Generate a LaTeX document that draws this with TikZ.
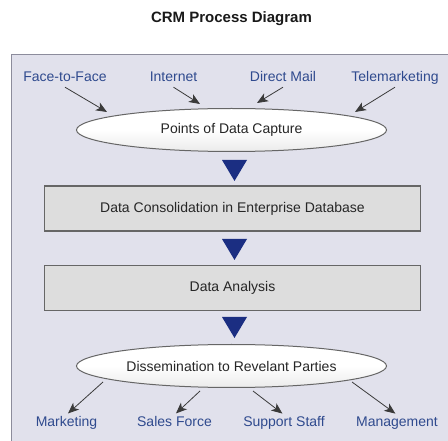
\documentclass[tikz,border=0pt]{standalone}
\usepackage{fontspec}
\setmainfont{Liberation Sans}
\usetikzlibrary{arrows.meta,shapes.geometric}
\definecolor{panelbg}{HTML}{E1E1EC}
\definecolor{panelline}{HTML}{8C8C9C}
\definecolor{boxbg}{HTML}{DDDDDD}
\definecolor{boxline}{HTML}{666666}
\definecolor{navy}{HTML}{1B2E82}
\definecolor{labelblue}{HTML}{2F4A8E}
\definecolor{arrline}{HTML}{3A3A3A}
\tikzset{
  lbl/.style={font=\fontsize{14}{16}\selectfont, text=labelblue, text height=10pt, text depth=3pt, inner sep=2pt, anchor=base},
  procbox/.style={draw=boxline, line width=1.2pt, fill=boxbg, minimum width=376pt, minimum height=45pt, font=\fontsize{14}{16}\selectfont, text=black!85},
  oval/.style={ellipse, draw=black!60, line width=1pt, top color=white, bottom color=black!8, middle color=white, minimum width=310pt, minimum height=43pt, inner sep=0pt, font=\fontsize{14}{16}\selectfont, text=black!85},
  feed/.style={draw=arrline, line width=0.8pt, -{Stealth[length=11pt, width=9pt, inset=3pt]}},
  downtri/.style={fill=navy}
}
\begin{document}
\begin{tikzpicture}[x=1pt, y=1pt]
\useasboundingbox (0,0) rectangle (448,-441);
\fill[panelbg] (11.5,-54.5) rectangle (448,-441);
\draw[panelline, line width=1pt] (448,-54.5) -- (11.5,-54.5) -- (11.5,-441);

\node[font=\fontsize{15}{18}\selectfont\bfseries, text=black!90] (title) at (231.5,-19) {CRM Process Diagram};

% top labels
\node[lbl] (f2f) at (65,-82) {Face-to-Face};
\node[lbl] (inet) at (173.5,-82) {Internet};
\node[lbl] (dmail) at (283,-82) {Direct Mail};
\node[lbl] (tele) at (395,-82) {Telemarketing};

% capture ellipse
\node[oval] (cap) at (231.5,-130) {Points of Data Capture};
\coordinate (c1) at (107,-112);
\coordinate (c2) at (200,-104);
\coordinate (c3) at (257,-103);
\coordinate (c4) at (355,-112);
\draw[feed] (f2f.south) -- (c1);
\draw[feed] (inet.south) -- (c2);
\draw[feed] (dmail.south) -- (c3);
\draw[feed] (tele.south) -- (c4);

% triangles
\fill[downtri] (222,-160) -- (247,-160) -- (234.5,-181) -- cycle;
\node[procbox] (cons) at (232.5,-208.5) {Data Consolidation in Enterprise Database};
\fill[downtri] (222,-239) -- (247,-239) -- (234.5,-260) -- cycle;
\node[procbox] (anal) at (232.5,-288) {Data Analysis};
\fill[downtri] (222,-317) -- (247,-317) -- (234.5,-338) -- cycle;

% dissemination ellipse
\node[oval] (diss) at (231.5,-366) {Dissemination to Revelant Parties};
\coordinate (d1) at (103,-382);
\coordinate (d2) at (200,-391);
\coordinate (d3) at (253,-391);
\coordinate (d4) at (352,-382);

\node[lbl] (mkt) at (66.5,-427) {Marketing};
\node[lbl] (sales) at (174.5,-427) {Sales Force};
\node[lbl] (supp) at (284,-427) {Support Staff};
\node[lbl] (mgmt) at (397,-427) {Management};

\draw[feed, shorten >=2pt] (d1) -- (mkt.north);
\draw[feed, shorten >=2pt] (d2) -- (sales.north);
\draw[feed, shorten >=2pt] (d3) -- (supp.north);
\draw[feed, shorten >=2pt] (d4) -- (mgmt.north);
\end{tikzpicture}
\end{document}
